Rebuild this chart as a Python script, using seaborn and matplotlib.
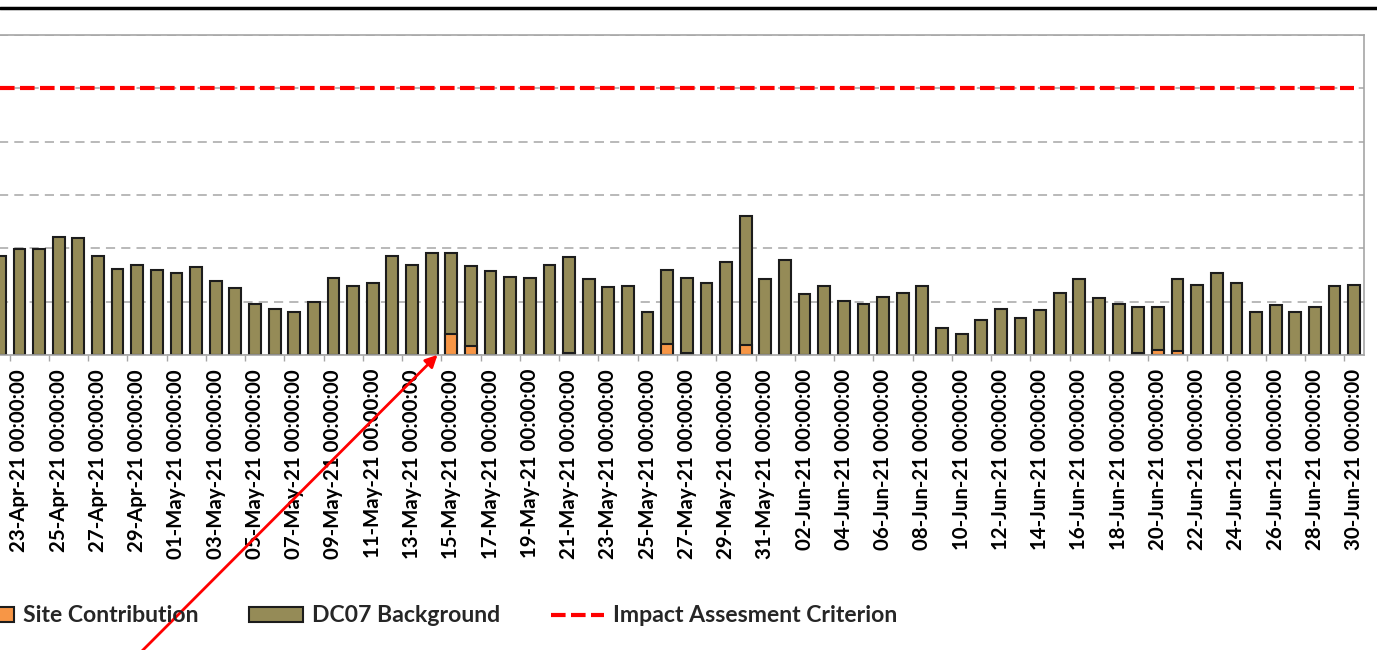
import numpy as np
import pandas as pd
import matplotlib.pyplot as plt
import seaborn as sns
from matplotlib.patches import Patch
from matplotlib.lines import Line2D

# 날짜 범주 (22-Apr-21 ~ 30-Jun-21)
dates = pd.date_range('2021-04-22', '2021-06-30', freq='D')
date_labels = [d.strftime('%d-%b-%y') + ' 00:00:00' for d in dates]

# DC07 background
background = [
    18.6, 19.9, 19.9, 22.2, 21.9, 18.6, 16.2, 16.8, 15.9,
    15.3, 16.5, 13.8, 12.6, 9.6, 8.6, 8.0, 9.9, 14.4, 12.9,
    13.5, 18.6, 16.8, 19.2, 15.3, 15.0, 15.7, 14.7, 14.4, 16.9,
    18.1, 14.2, 12.7, 13.0, 8.1, 14.0, 14.0, 13.5, 17.5, 24.2, 14.2,
    17.8, 11.4, 13.0, 10.2, 9.6, 10.9, 11.7, 13.0, 5.1, 3.9,
    6.6, 8.7, 7.0, 8.4, 11.7, 14.2, 10.6, 9.6, 8.7, 8.1,
    13.4, 13.2, 15.3, 13.5, 8.1, 9.3, 8.1, 9.0, 12.9, 13.2,
]
# site contribution
site = [0.0] * len(dates)
site_days = {'15-May-21': 3.9, '16-May-21': 1.6, '21-May-21': 0.3, '26-May-21': 2.0,
             '27-May-21': 0.4, '30-May-21': 1.9, '19-Jun-21': 0.3, '20-Jun-21': 0.9,
             '21-Jun-21': 0.8}
for k, v in site_days.items():
    site[[d.strftime('%d-%b-%y') for d in dates].index(k)] = v
criterion = 50

olive = '#958b57'
orange = '#f79646'
edge = '#1c1c1c'
fonts = ['Liberation Sans Narrow', 'Lato', 'DejaVu Sans']

sns.set_theme(style='white')
plt.rcParams['font.family'] = fonts

df = pd.DataFrame({'date': date_labels, 'background': background, 'site': site})
df['total'] = df['background'] + df['site']

fig = plt.figure(figsize=(13.77, 6.5), dpi=100)
ax = fig.add_axes([-10 / 1377, 1 - 355 / 650, 1374 / 1377, 320 / 650])

sns.barplot(data=df, x='date', y='total', order=date_labels, color=olive, saturation=1,
            edgecolor=edge, linewidth=1.5, width=0.6, ax=ax)
sns.barplot(data=df[df['site'] > 0], x='date', y='site', order=date_labels, color=orange,
            saturation=1, edgecolor=edge, linewidth=1.5, width=0.6, ax=ax)

n = len(dates)
ax.plot(np.arange(n), np.full(n, criterion), color='#ff0000', lw=3, dashes=(3.5, 1.3), zorder=5)

ax.set_xlim(-0.5, n - 0.5)
ax.set_ylim(0, 60)
ax.set_yticks(np.arange(0, 61, 10))
ax.set_yticklabels([])
ax.yaxis.grid(True, color='#a6a6a6', lw=1.1, linestyle=(0, (6, 4)))
ax.set_axisbelow(True)
ax.set_xlabel('')
ax.set_ylabel('')

ax.set_xticks(np.arange(1, n, 2))
ax.set_xticklabels(date_labels[1::2], rotation=90, fontweight='bold', fontsize=14.7)
ax.set_xticks(np.arange(0.5, n, 2), minor=True)
ax.tick_params(axis='x', which='major', length=0, pad=10, colors='black')
ax.tick_params(axis='x', which='minor', length=4, width=1, color='#a6a6a6', bottom=True)
ax.tick_params(axis='y', length=0)

for s in ['top', 'right', 'bottom']:
    ax.spines[s].set_color('#a6a6a6')
    ax.spines[s].set_linewidth(1.2)
ax.spines['left'].set_visible(False)

# 상단 테두리
fig.add_artist(Line2D([0, 1], [1 - 8 / 650] * 2, transform=fig.transFigure, color='black', lw=2.5))

# 화살표
idx = date_labels.index('15-May-21 00:00:00')
ax.annotate('', xy=(idx - 0.6, 0.4), xycoords='data', xytext=(140 / 1377, -3 / 650),
            textcoords='figure fraction', annotation_clip=False,
            arrowprops=dict(arrowstyle='-|>', color='red', lw=2, mutation_scale=18))

handles = [Patch(facecolor=orange, edgecolor=edge, lw=1.5),
           Patch(facecolor=olive, edgecolor=edge, lw=1.5),
           Line2D([0], [0], color='#ff0000', lw=3, dashes=(3.5, 1.3))]
fig.legend(handles, ['Site Contribution', 'DC07 Background', 'Impact Assesment Criterion'],
           loc='center left', bbox_to_anchor=(-39 / 1377, 1 - 616 / 650), ncol=3, frameon=False,
           prop=dict(family=fonts, weight='bold', size=16.6),
           handlelength=2.3, handleheight=0.62, handletextpad=0.4, columnspacing=2.2,
           borderpad=0, borderaxespad=0)

fig.savefig('out.png', dpi=100)
